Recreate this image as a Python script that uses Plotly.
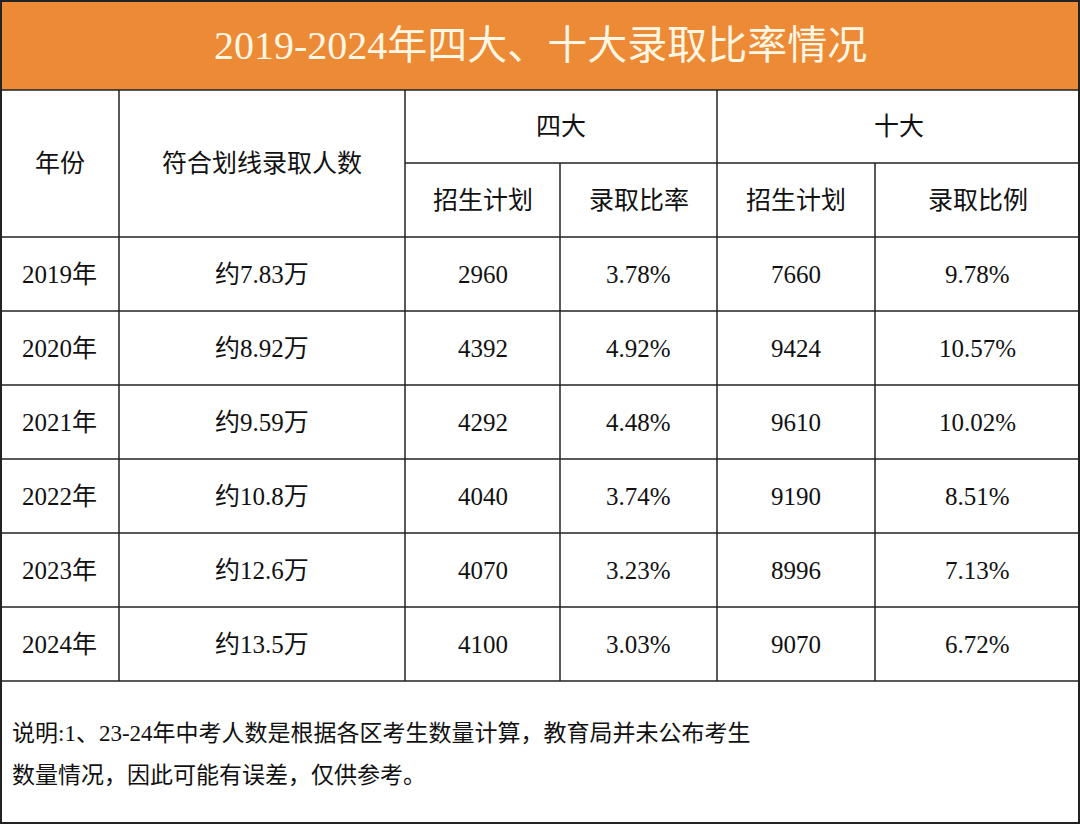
import plotly.graph_objects as go

title = "2019-2024年四大、十大录取比率情况"
years = ["2019年", "2020年", "2021年", "2022年", "2023年", "2024年"]
applicants = ["约7.83万", "约8.92万", "约9.59万", "约10.8万", "约12.6万", "约13.5万"]
top4_plan = [2960, 4392, 4292, 4040, 4070, 4100]
top4_rate = ["3.78%", "4.92%", "4.48%", "3.74%", "3.23%", "3.03%"]
top10_plan = [7660, 9424, 9610, 9190, 8996, 9070]
top10_rate = ["9.78%", "10.57%", "10.02%", "8.51%", "7.13%", "6.72%"]
note_lines = ["说明:1、23-24年中考人数是根据各区考生数量计算，教育局并未公布考生",
              "数量情况，因此可能有误差，仅供参考。"]

W, H = 1080, 824
col_x = [0, 119, 405, 560, 717, 875, 1080]
title_h = 90
head_y = [90, 163, 237]
row_h = 74
FONT = "Liberation Serif, Noto Sans CJK SC, serif"
LINE = "#222222"

fig = go.Figure()
shapes = []
ann = []

def line(x0, y0, x1, y1, w=1.5):
    shapes.append(dict(type="line", x0=x0, y0=y0, x1=x1, y1=y1, line=dict(color=LINE, width=w)))

def text(x, y, s, size=25, color="#111111", xanchor="center"):
    ann.append(dict(x=x, y=y, text=s, showarrow=False, xanchor=xanchor, yanchor="middle",
                    font=dict(family=FONT, size=size, color=color)))

# title band
shapes.append(dict(type="rect", x0=0, y0=0, x1=W, y1=title_h, fillcolor="#ed8a35", line=dict(width=0)))
text(W / 2, title_h / 2, title, size=40, color="#fff6e4")

rows_end = head_y[2] + row_h * len(years)
line(0, title_h, W, title_h)
line(col_x[2], head_y[1], W, head_y[1])
for i in range(len(years) + 1):
    y = head_y[2] + i * row_h
    line(0, y, W, y)
for i, x in enumerate(col_x[1:-1], start=1):
    y0 = head_y[1] if i in (3, 5) else title_h
    line(x, y0, x, rows_end)
shapes.append(dict(type="rect", x0=1, y0=1, x1=W - 1, y1=H - 1, line=dict(color=LINE, width=2)))

def mid(i):
    return (col_x[i] + col_x[i + 1]) / 2

text(mid(0), (head_y[0] + head_y[2]) / 2, "年份")
text(mid(1), (head_y[0] + head_y[2]) / 2, "符合划线录取人数")
text((col_x[2] + col_x[4]) / 2, (head_y[0] + head_y[1]) / 2, "四大")
text((col_x[4] + col_x[6]) / 2, (head_y[0] + head_y[1]) / 2, "十大")
for i, s in zip(range(2, 6), ["招生计划", "录取比率", "招生计划", "录取比例"]):
    text(mid(i), (head_y[1] + head_y[2]) / 2, s)

for r in range(len(years)):
    y = head_y[2] + r * row_h + row_h / 2
    vals = [years[r], applicants[r], str(top4_plan[r]), top4_rate[r], str(top10_plan[r]), top10_rate[r]]
    for c, v in enumerate(vals):
        text(mid(c), y, v)

for k, s in enumerate(note_lines):
    text(10, 733 + k * 42, s, size=23, xanchor="left")

fig.update_layout(
    width=W, height=H,
    margin=dict(l=0, r=0, t=0, b=0),
    plot_bgcolor="white", paper_bgcolor="white",
    xaxis=dict(range=[0, W], visible=False, fixedrange=True),
    yaxis=dict(range=[H, 0], visible=False, fixedrange=True),
    shapes=shapes, annotations=ann, showlegend=False,
)
fig.write_html("out.html", config={"displayModeBar": False},
               post_script="document.body.style.margin='0';document.body.style.overflow='hidden';")
